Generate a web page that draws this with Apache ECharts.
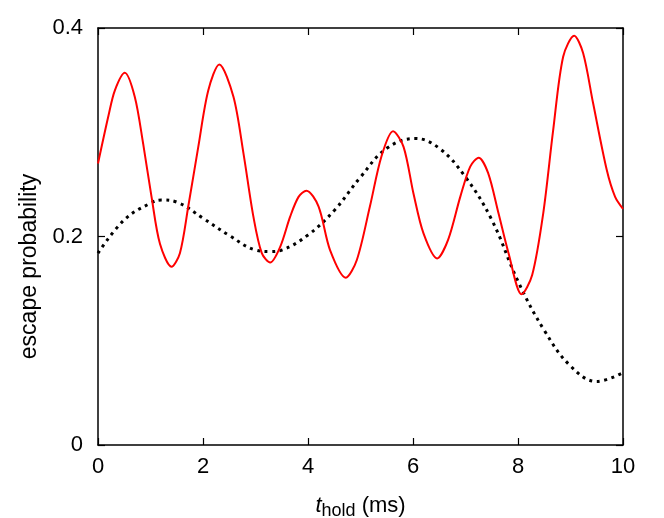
<!DOCTYPE html>
<html>
<head>
<meta charset="utf-8">
<script src="https://cdn.jsdelivr.net/npm/echarts@6/dist/echarts.min.js"></script>
<style>html,body{margin:0;padding:0;background:#fff;}#c{width:664px;height:518px;}</style>
</head>
<body>
<div id="c"></div>
<script>
// Red (solid) curve
var redT = [0,0.2,0.32,0.51,0.7,0.86,1.02,1.18,1.40,1.56,1.72,1.91,2.10,2.31,2.58,2.77,2.96,3.12,3.28,3.47,3.66,3.82,3.97,4.20,4.42,4.72,4.93,5.18,5.40,5.62,5.82,6.01,6.20,6.46,6.67,6.90,7.09,7.25,7.43,7.63,7.82,8.07,8.27,8.48,8.67,8.86,9.07,9.24,9.43,9.69,9.85,10];
var redP = [0.270,0.316,0.340,0.357,0.334,0.289,0.238,0.193,0.171,0.184,0.229,0.286,0.340,0.365,0.334,0.280,0.219,0.184,0.175,0.190,0.219,0.238,0.244,0.229,0.187,0.1605,0.1775,0.229,0.277,0.301,0.286,0.241,0.203,0.179,0.197,0.238,0.267,0.2756,0.261,0.222,0.184,0.1445,0.163,0.222,0.302,0.3725,0.3926,0.376,0.328,0.264,0.238,0.2265];
// Black (dotted) curve
var blackT = [0,0.5,1.0,1.21,1.5,2.0,2.5,3.0,3.28,3.5,4.0,4.5,5.0,5.5,6.04,6.5,7.0,7.5,8.0,8.5,9.0,9.5,10];
var blackP = [0.184,0.216,0.232,0.235,0.233,0.2175,0.201,0.187,0.1855,0.187,0.2015,0.225,0.257,0.2846,0.294,0.2846,0.257,0.216,0.157,0.110,0.0758,0.061,0.0694];
// Tick labels
var xTicks = [0,2,4,6,8,10];
var yTicks = [0,0.2,0.4];

function pairs(a,b){return a.map(function(v,i){return [v,b[i]];});}

var font = 'Liberation Sans, Arial, Helvetica, sans-serif';
var chart = echarts.init(document.getElementById('c'), null, {renderer:'canvas'});
var axisLine = {show:true, onZero:false, lineStyle:{color:'#000', width:1.5}};
var tick = {show:true, inside:true, length:7, lineStyle:{color:'#000', width:1.2}};
chart.setOption({
  animation:false,
  backgroundColor:'#fff',
  grid:{left:98, right:41, top:28, bottom:73, containLabel:false, outerBoundsMode:'none'},
  xAxis:[{
    type:'value', min:xTicks[0], max:xTicks[xTicks.length-1], interval:2,
    axisLine:axisLine, axisTick:tick,
    axisLabel:{color:'#000', fontSize:22, fontFamily:font, margin:11,
      formatter:function(v){return xTicks.indexOf(v)>=0?String(v):'';}},
    splitLine:{show:false},
    name:'{i|t}{s|hold} (ms)', nameLocation:'middle', nameGap:46,
    nameTextStyle:{color:'#000', fontSize:22, fontFamily:font,
      rich:{i:{fontStyle:'italic', fontSize:22, fontFamily:font, color:'#000'},
            s:{fontSize:18, fontFamily:font, color:'#000', padding:[11,0,0,0]}}}
  },{
    type:'value', position:'top', min:0, max:10, interval:2,
    axisLine:axisLine, axisTick:tick,
    axisLabel:{show:false}, splitLine:{show:false}
  }],
  yAxis:[{
    type:'value', min:yTicks[0], max:yTicks[yTicks.length-1], interval:0.2,
    axisLine:axisLine, axisTick:tick,
    axisLabel:{color:'#000', fontSize:22, fontFamily:font, margin:15,
      formatter:function(v){return String(Math.round(v*10)/10);}},
    splitLine:{show:false},
    name:'escape probability', nameLocation:'middle', nameGap:52,
    nameTextStyle:{color:'#000', fontSize:23, fontFamily:font, padding:[0,60,0,0]}
  },{
    type:'value', position:'right', min:0, max:0.4, interval:0.2,
    axisLine:axisLine, axisTick:tick,
    axisLabel:{show:false}, splitLine:{show:false}
  }],
  series:[{
    type:'line', data:pairs(blackT,blackP), smooth:0.4, showSymbol:false,
    lineStyle:{color:'#000', width:3, type:[3,4.5], cap:'butt'}
  },{
    type:'line', data:pairs(redT,redP), smooth:0.3, showSymbol:false,
    lineStyle:{color:'#ff0000', width:2}
  }]
});
</script>
</body>
</html>
